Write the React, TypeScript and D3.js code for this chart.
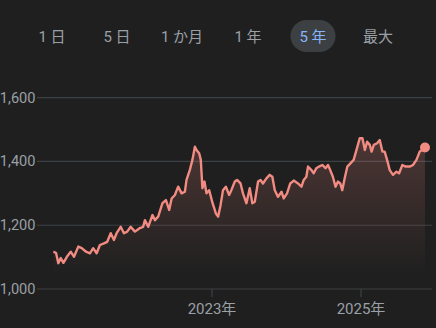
import React from "react";
import * as d3 from "d3";

const tabs = ["1 日", "5 日", "1 か月", "1 年", "5 年", "最大"];
const activeTab = "5 年";
const yTicks = [1000, 1200, 1400, 1600];
const xTickDates = ["2023-01-01", "2025-01-01"];
const xTickLabels = ["2023年", "2025年"];

const dates = [
  "2020-11-14","2020-11-27","2020-12-08","2020-12-20","2021-01-02","2021-01-19","2021-02-07","2021-02-23",
  "2021-03-16","2021-04-02","2021-04-23","2021-05-12","2021-05-28","2021-06-14","2021-06-30","2021-07-20",
  "2021-08-05","2021-08-22","2021-09-07","2021-09-20","2021-10-10","2021-10-26","2021-11-11","2021-11-28",
  "2021-12-19","2022-01-09","2022-01-28","2022-02-06","2022-02-22","2022-03-15","2022-03-27","2022-04-12",
  "2022-05-03","2022-05-20","2022-06-05","2022-06-17","2022-07-03","2022-07-19","2022-08-05","2022-08-21",
  "2022-08-29","2022-09-14","2022-09-27","2022-10-09","2022-10-17","2022-10-30","2022-11-07","2022-11-15",
  "2022-11-25","2022-12-05","2022-12-18","2023-01-04","2023-01-20","2023-01-31","2023-02-12","2023-02-24",
  "2023-03-10","2023-03-26","2023-04-06","2023-04-23","2023-05-04","2023-05-21","2023-06-02","2023-06-19",
  "2023-07-05","2023-07-18","2023-07-30","2023-08-15","2023-08-27","2023-09-08","2023-09-25","2023-10-11",
  "2023-10-24","2023-11-05","2023-11-21","2023-12-08","2023-12-19","2024-01-04","2024-01-20","2024-02-06",
  "2024-02-27","2024-03-15","2024-03-26","2024-04-08","2024-04-16","2024-05-03","2024-05-14","2024-05-27",
  "2024-06-09","2024-06-25","2024-07-11","2024-07-23","2024-08-03","2024-08-16","2024-08-29","2024-09-10",
  "2024-09-21","2024-10-01","2024-10-13","2024-10-26","2024-11-10","2024-11-26","2024-12-12","2024-12-26",
  "2025-01-08","2025-01-20","2025-01-31","2025-02-13","2025-02-22","2025-03-05","2025-03-21","2025-04-03",
  "2025-04-16","2025-04-27","2025-05-09","2025-05-22","2025-06-07","2025-06-24","2025-07-07","2025-07-23",
  "2025-08-08","2025-08-28","2025-09-13","2025-09-30","2025-10-16","2025-10-29","2025-11-11"
];
const values = [
  1117,1113,1081,1097,1082,1101,1117,1101,
  1133,1128,1117,1112,1128,1112,1138,1143,
  1148,1175,1154,1175,1195,1175,1180,1195,
  1180,1190,1195,1216,1195,1232,1216,1227,
  1269,1279,1248,1284,1295,1321,1300,1305,
  1342,1373,1405,1446,1436,1426,1405,1316,
  1337,1300,1310,1269,1237,1227,1263,1310,
  1321,1295,1310,1337,1342,1331,1300,1269,
  1316,1269,1274,1337,1342,1331,1347,1358,
  1352,1310,1289,1305,1284,1300,1331,1340,
  1331,1321,1342,1352,1384,1373,1363,1379,
  1384,1389,1379,1389,1373,1352,1321,1337,
  1331,1310,1347,1384,1394,1405,1441,1473,
  1473,1436,1462,1452,1431,1452,1457,1467,
  1431,1431,1405,1373,1358,1368,1363,1389,
  1384,1384,1389,1405,1431,1436,1444
];

const W = 436;
const H = 328;
const FONT = "Roboto, 'Noto Sans CJK JP', 'Noto Sans', sans-serif";
const BG = "#1f1f1f";
const LINE = "#f28b82";
const GRID = "#3c4043";
const TEXT = "#9aa0a6";

export default function App() {
  const parse = d3.timeParse("%Y-%m-%d");
  const data = dates.map((d, i) => ({ date: parse(d) as Date, value: values[i] }));
  const tickDates = xTickDates.map((d) => parse(d) as Date);

  // x: 2023-01-01 at 212px, 2025-01-01 at 361px
  const x = d3.scaleTime().domain(tickDates).range([212, 361]);
  const y = d3.scaleLinear().domain([1000, 1600]).range([289, 97.7]);

  const line = d3
    .line<{ date: Date; value: number }>()
    .x((d) => x(d.date))
    .y((d) => y(d.value))
    .curve(d3.curveLinear);
  const area = d3
    .area<{ date: Date; value: number }>()
    .x((d) => x(d.date))
    .y0(y(1000) - 14)
    .y1((d) => y(d.value))
    .curve(d3.curveLinear);

  const last = data[data.length - 1];
  const tabX = [52, 117, 182, 248, 313, 378];

  return (
    <div style={{ position: "fixed", left: 0, top: 0, width: W, height: H, background: BG }}>
      <svg width={W} height={H} style={{ display: "block" }} fontFamily={FONT}>
        <defs>
          <linearGradient id="areaGrad" x1="0" y1={y(1480)} x2="0" y2={y(1000) - 14} gradientUnits="userSpaceOnUse">
            <stop offset="0" stopColor={LINE} stopOpacity={0.22} />
            <stop offset="1" stopColor={LINE} stopOpacity={0} />
          </linearGradient>
        </defs>
        <rect width={W} height={H} fill={BG} />

        {tabs.map((t, i) => {
          const active = t === activeTab;
          return (
            <g key={t}>
              {active && <rect x={tabX[i] - 22.5} y={20} width={45} height={32} rx={16} fill={GRID} />}
              <text
                x={tabX[i]}
                y={37}
                textAnchor="middle"
                dominantBaseline="central"
                fontSize={15}
                fill={active ? "#8ab4f8" : TEXT}
              >
                {t}
              </text>
            </g>
          );
        })}

        {yTicks.map((v) => (
          <g key={v}>
            <line x1={37} x2={432} y1={y(v)} y2={y(v)} stroke={GRID} strokeWidth={1.2} />
            <text x={35.5} y={y(v)} textAnchor="end" dominantBaseline="central" fontSize={14.6} fill={TEXT}>
              {d3.format(",")(v)}
            </text>
          </g>
        ))}

        {tickDates.map((d, i) => (
          <g key={xTickLabels[i]}>
            <line x1={x(d)} x2={x(d)} y1={y(1000)} y2={y(1000) + 8} stroke={GRID} strokeWidth={1.2} />
            <text x={x(d)} y={308.5} textAnchor="middle" dominantBaseline="central" fontSize={15} fill={TEXT}>
              {xTickLabels[i]}
            </text>
          </g>
        ))}

        <path d={area(data) || ""} fill="url(#areaGrad)" />
        <path d={line(data) || ""} fill="none" stroke={LINE} strokeWidth={2.4} strokeLinejoin="round" />
        <circle cx={x(last.date)} cy={y(last.value)} r={5} fill={LINE} />
      </svg>
    </div>
  );
}
